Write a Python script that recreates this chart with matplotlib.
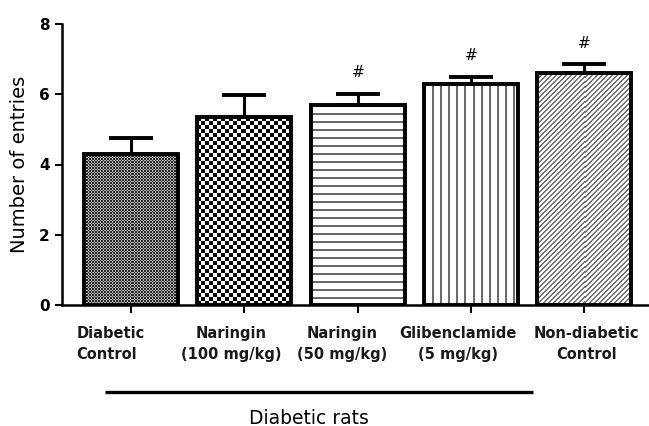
import numpy as np
import matplotlib
matplotlib.use("Agg")
import matplotlib.pyplot as plt
from matplotlib.transforms import blended_transform_factory

# Number of entries per group (mean and SEM)
groups = ["Diabetic\nControl", "Naringin\n(100 mg/kg)", "Naringin\n(50 mg/kg)",
          "Glibenclamide\n(5 mg/kg)", "Non-diabetic\nControl"]
means = [4.3, 5.35, 5.68, 6.28, 6.6]
sems = [0.45, 0.62, 0.33, 0.22, 0.25]
significant = [False, False, True, True, True]
yticks = [0, 2, 4, 6, 8]
bracket_label = "Diabetic rats"
ylabel = "Number of entries"

# horizontal nudges for the category labels (data units)
label_shift = [-0.18, -0.115, -0.14, -0.115, 0.015]
label_align = ["left", "center", "center", "center", "center"]

plt.rcParams["font.family"] = ["DejaVu Sans"]

fig = plt.figure(figsize=(6.49, 4.26), dpi=100)
ax = fig.add_axes([62 / 649, 1 - 305 / 426, 1 - 62 / 649, (305 - 24) / 426])

x = np.arange(len(means))
ax.set_xlim(-0.61, 4.57)
ax.set_ylim(0, 8)

# error bars (upper only), drawn under the bar outlines
ax.errorbar(x, means, yerr=[np.zeros(len(sems)), sems], fmt="none",
            ecolor="black", elinewidth=2.2, capsize=16, capthick=2.8, zorder=2)

bars = ax.bar(x, means, width=0.83, facecolor="none", edgecolor="black",
              linewidth=2.8, zorder=4)


def texture(kind, H, W):
    i, j = np.mgrid[0:H, 0:W]
    img = np.ones((H, W))
    if kind == "fine":
        light = ((i % 3 + j % 3) % 2) == 1
        img = np.where(light, 0.72, 0.15)
    elif kind == "checker":
        img = np.where(((i // 4 + j // 4) % 2) == 0, 0.03, 0.97)
    elif kind == "hlines":
        img = np.where((i % 8) < 2, 0.42, 1.0)
    elif kind == "vlines":
        img = np.where((j % 8) < 2, 0.42, 1.0)
    elif kind == "diag":
        img = np.where(((i + j) % 5) < 2, 0.45, 1.0)
    return img


kinds = ["fine", "checker", "hlines", "vlines", "diag"]
for bar, kind in zip(bars, kinds):
    x0, w, h = bar.get_x(), bar.get_width(), bar.get_height()
    p0 = ax.transData.transform((x0, 0))
    p1 = ax.transData.transform((x0 + w, h))
    W = max(int(round(p1[0] - p0[0])), 1)
    H = max(int(round(p1[1] - p0[1])), 1)
    im = ax.imshow(texture(kind, H, W), cmap="gray", vmin=0, vmax=1,
                   extent=[x0, x0 + w, 0, h], origin="upper",
                   interpolation="nearest", aspect="auto", zorder=3)
    im.set_clip_path(bar)

ax.set_xlim(-0.61, 4.57)
ax.set_ylim(0, 8)

# significance marks
for xi, m, s, sig in zip(x, means, sems, significant):
    if sig:
        ax.text(xi, m + s + 0.6, "#", ha="center", va="center",
                fontsize=11)

for side in ("top", "right"):
    ax.spines[side].set_visible(False)
for side in ("left", "bottom"):
    ax.spines[side].set_linewidth(1.8)

ax.set_yticks(yticks)
ax.set_yticklabels([str(t) for t in yticks], fontsize=11, fontweight="bold")
ax.tick_params(axis="y", length=5, width=1.5, pad=4)
ax.set_xticks(x)
ax.set_xticklabels([])
ax.tick_params(axis="x", length=6, width=1.5)

fig.text(20 / 649, 1 - 164 / 426, ylabel, rotation=90, ha="center",
         va="center", fontsize=14)

# category labels under the ticks
lab_tr = blended_transform_factory(ax.transData, fig.transFigure)
for xi, name, dx, al in zip(x, groups, label_shift, label_align):
    ax.text(xi + dx, 1 - 344 / 426, name, transform=lab_tr, ha="center",
            va="center", multialignment=al, fontsize=10.5,
            fontweight="bold", color="#1a1a1a", linespacing=1.55,
            clip_on=False)

# bracket line for the diabetic groups
ax.plot([-0.23, 3.55], [1 - 392 / 426] * 2, transform=lab_tr, color="black",
        linewidth=2.4, clip_on=False, solid_capstyle="butt")
ax.text(1.57, 1 - 418 / 426, bracket_label, transform=lab_tr, ha="center",
        va="center", fontsize=13.5, clip_on=False)

fig.savefig("out.png", dpi=100)
